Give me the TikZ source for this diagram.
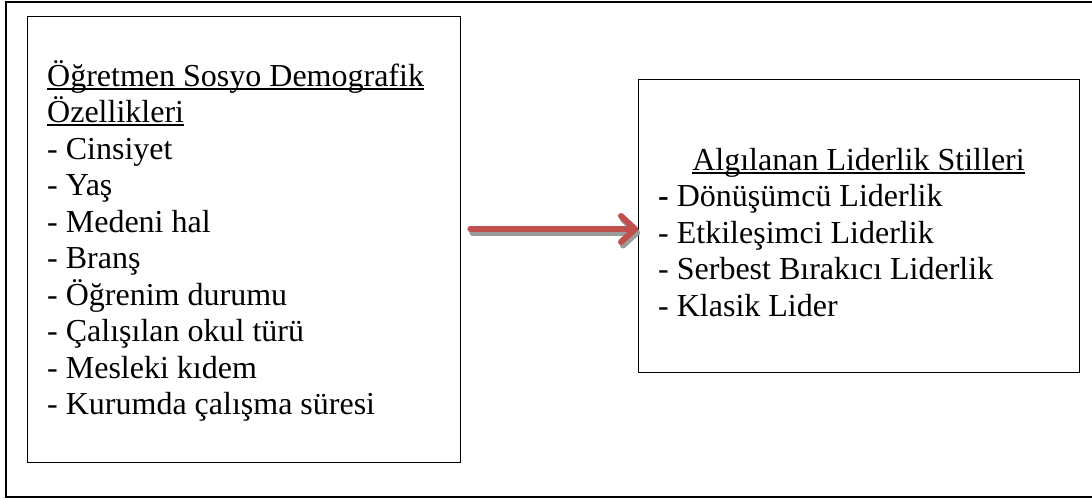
\documentclass[tikz,border=0pt]{standalone}
\usepackage{fontspec}
\setmainfont{Liberation Serif}
\usetikzlibrary{calc}
\newcommand\myul[1]{\setbox0\hbox{#1}\rlap{\rule[-3.8pt]{\wd0}{2pt}}\box0}
\definecolor{arrred}{RGB}{192,80,77}
\definecolor{arrshadow}{RGB}{155,155,155}
\tikzset{
  boxnode/.style={draw=black, line width=1.4pt, rectangle, inner sep=0pt, anchor=north west},
  linetext/.style={anchor=base west, inner sep=0pt, font=\fontsize{32}{36}\selectfont},
  titletext/.style={anchor=base, inner sep=0pt, font=\fontsize{32}{36}\selectfont},
  arrline/.style={line width=6pt, line cap=round, line join=round},
}
\begin{document}
\begin{tikzpicture}[x=1pt,y=-1pt]
\useasboundingbox (0,0) rectangle (1092,499);
% outer frame (right side lies beyond the picture)
\draw[line width=2pt] (1100,1.5) -- (6,1.5) -- (6,497) -- (1100,497);
% boxes
\node[boxnode, minimum width=433pt, minimum height=446pt] (lbox) at (27,16) {};
\node[boxnode, minimum width=441pt, minimum height=293pt] (rbox) at (638,79) {};
% left text
\node[linetext] (l1) at (47,86) {\myul{Öğretmen Sosyo Demografik}};
\node[linetext] (l2) at (47,122.5) {\myul{Özellikleri}};
\node[linetext] (l3) at (47,159) {- Cinsiyet};
\node[linetext] (l4) at (47,195.5) {- Yaş};
\node[linetext] (l5) at (47,232) {- Medeni hal};
\node[linetext] (l6) at (47,268.5) {- Branş};
\node[linetext] (l7) at (47,305) {- Öğrenim durumu};
\node[linetext] (l8) at (47,341.5) {- Çalışılan okul türü};
\node[linetext] (l9) at (47,378) {- Mesleki kıdem};
\node[linetext] (l10) at (47,414.5) {- Kurumda çalışma süresi};
% right text
\node[titletext] (r1) at (858.5,170) {\myul{Algılanan Liderlik Stilleri}};
\node[linetext] (r2) at (658,206.5) {\textbf{-} Dönüşümcü Liderlik};
\node[linetext] (r3) at (658,243) {- Etkileşimci Liderlik};
\node[linetext] (r4) at (658,279.5) {- Serbest Bırakıcı Liderlik};
\node[linetext] (r5) at (658,316) {- Klasik Lider};
% arrow
\coordinate (ay) at (0,229);
\coordinate (as) at ($(lbox.east |- ay)+(9,0)$);
\coordinate (ae) at (rbox.west |- ay);
% shadow
\draw[arrshadow, arrline] ($(as)+(2,3.5)$) -- ($(ae)+(-1,3.5)$);
\draw[arrshadow, arrline] ($(ae)+(-15,-9.5)$) -- ($(ae)+(-1,3.5)$) -- ($(ae)+(-15,16.5)$);
% red arrow
\draw[arrred, arrline] (as) -- ($(ae)+(-3,0)$);
\draw[arrred, arrline] ($(ae)+(-17,-13)$) -- ($(ae)+(-3,0)$) -- ($(ae)+(-17,13)$);
\end{tikzpicture}
\end{document}
